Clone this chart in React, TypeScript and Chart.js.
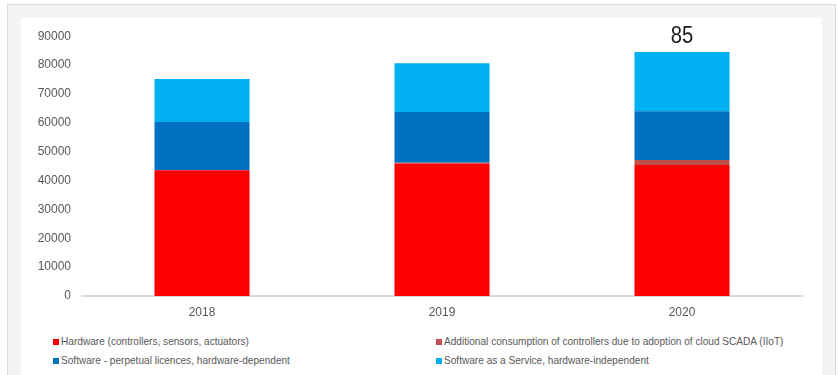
import React, { useEffect, useRef } from "react";
import { Chart, registerables } from "chart.js";

Chart.register(...registerables);

const categories = ["2018", "2019", "2020"];
const hardware = [43600, 45900, 45400];
const iiot = [0, 300, 1700];
const swPerpetual = [16700, 17500, 16900];
const saas = [14900, 16900, 20500];
const topLabels = ["", "", "85"];

const seriesNames = [
  "Hardware (controllers, sensors, actuators)",
  "Additional consumption of controllers due to adoption of cloud SCADA (IIoT)",
  "Software - perpetual licences, hardware-dependent",
  "Software as a Service, hardware-independent",
];
const seriesColors = ["#FF0000", "#C0504D", "#0070C0", "#00B0F0"];
const yTicks = [0, 10000, 20000, 30000, 40000, 50000, 60000, 70000, 80000, 90000];

const FONT = "'Liberation Sans', Arial, sans-serif";

const topLabelPlugin = {
  id: "topLabel",
  afterDatasetsDraw(chart: any) {
    const ctx = chart.ctx;
    const last = chart.getDatasetMeta(chart.data.datasets.length - 1);
    topLabels.forEach((t, i) => {
      if (!t) return;
      const el = last.data[i];
      ctx.save();
      ctx.translate(el.x, el.y - 4);
      ctx.scale(0.88, 1);
      ctx.font = "23px 'Liberation Sans', Arial, sans-serif";
      ctx.fillStyle = "#1a1a1a";
      ctx.textAlign = "center";
      ctx.textBaseline = "bottom";
      ctx.fillText(t, 0, 0);
      ctx.restore();
    });
  },
};

export default function App() {
  const ref = useRef<HTMLCanvasElement>(null);
  useEffect(() => {
    if (!ref.current) return;
    const data = [hardware, iiot, swPerpetual, saas];
    const chart = new Chart(ref.current, {
      type: "bar",
      data: {
        labels: categories,
        datasets: data.map((d, i) => ({
          label: seriesNames[i],
          data: d,
          backgroundColor: seriesColors[i],
          borderWidth: 0,
          barPercentage: 0.396,
          categoryPercentage: 1,
        })),
      },
      options: {
        animation: false,
        responsive: false,
        maintainAspectRatio: false,
        layout: { padding: { left: 0, right: 20, top: 18, bottom: 0 } },
        plugins: { legend: { display: false }, tooltip: { enabled: false } },
        scales: {
          x: {
            stacked: true,
            grid: { display: false, drawTicks: false },
            border: { display: true, color: "#d9d9d9", width: 2 },
            ticks: { color: "#595959", font: { family: FONT, size: 12 }, padding: 9 },
            afterFit: (s: any) => { s.height = 29; },
          },
          y: {
            stacked: true,
            min: 0,
            max: 90000,
            afterBuildTicks: (s: any) => { s.ticks = yTicks.map((v) => ({ value: v })); },
            grid: { display: false, drawTicks: false },
            border: { display: false },
            ticks: {
              color: "#595959",
              font: { family: FONT, size: 12 },
              padding: 11,
              callback: (v: any) => String(v),
            },
            afterFit: (s: any) => { s.width = 61; },
          },
        },
      },
      plugins: [topLabelPlugin],
    });
    return () => chart.destroy();
  }, []);

  const legendItem = (i: number) => (
    <div style={{ display: "flex", alignItems: "center", whiteSpace: "nowrap" }}>
      <span style={{ display: "inline-block", width: 6, height: 6, background: seriesColors[i], marginRight: 2 }} />
      <span>{seriesNames[i]}</span>
    </div>
  );

  return (
    <div style={{ position: "fixed", left: 0, top: 0, width: 838, height: 375, background: "#fff", overflow: "hidden" }}>
      <div style={{ position: "absolute", left: 7, top: 4, width: 827, height: 400, border: "1px solid #dcdcdc", background: "#f4f4f4" }} />
      <div style={{ position: "absolute", left: 21, top: 18, width: 801, height: 400, background: "#fff" }} />
      <canvas ref={ref} width={801} height={307} style={{ position: "absolute", left: 21, top: 18, width: 801, height: 307 }} />
      <div style={{ position: "absolute", left: 53, top: 332, fontFamily: FONT, fontSize: 10.1, color: "#595959", lineHeight: "19px" }}>
        {legendItem(0)}
        {legendItem(2)}
      </div>
      <div style={{ position: "absolute", left: 436, top: 332, fontFamily: FONT, fontSize: 10.1, color: "#595959", lineHeight: "19px" }}>
        {legendItem(1)}
        {legendItem(3)}
      </div>
    </div>
  );
}
